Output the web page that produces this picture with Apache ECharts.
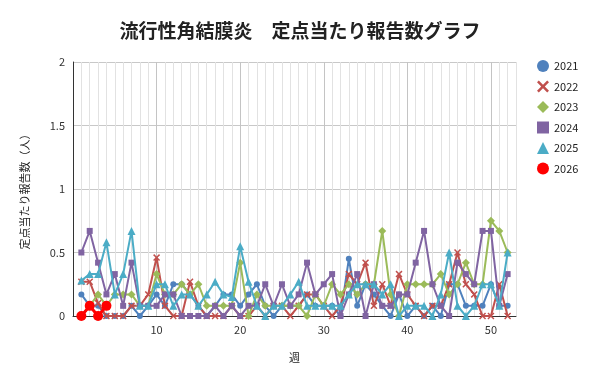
<!DOCTYPE html>
<html><head><meta charset="utf-8">
<script src="https://cdn.jsdelivr.net/npm/echarts@6/dist/echarts.min.js"></script>
<style>html,body{margin:0;padding:0;background:#fff}#c{width:600px;height:384px}</style>
</head><body><div id="c"></div>
<script>
const weeks = Array.from({length:52},(_,i)=>i+1);
const seriesNames = ['2021','2022','2023','2024','2025','2026'];
const y2021 = [0.17,0.08,0.08,0,0,0,0.08,0,0.08,0.17,0.08,0.25,0.25,0.17,0.08,0,0.08,0.17,0.17,0.08,0.17,0.25,0.08,0,0.08,0.08,0.08,0.17,0.08,0.08,0.08,0,0.45,0.08,0.25,0.17,0.08,0,0.17,0,0.08,0,0.08,0,0.25,0.25,0.08,0.08,0.08,0.25,0.08,0.08];
const y2022 = [0.27,0.27,0.1,0,0,0,0.08,0.08,0.17,0.46,0.08,0,0,0.27,0.08,0,0,0,0.08,0,0,0.08,0,0.08,0.08,0,0.08,0.17,0.17,0.08,0,0.08,0.33,0.25,0.42,0.08,0.25,0.08,0.33,0.17,0.08,0,0.08,0.08,0.25,0.5,0.25,0.17,0,0,0.25,0];
const y2023 = [0,0.08,0.17,0.08,0.17,0.17,0.17,0.08,0.08,0.33,0.17,0.17,0.25,0.17,0.25,0.08,0.08,0.08,0.08,0.42,0,0.17,0.08,0.08,0.08,0.08,0.08,0,0.17,0.08,0.25,0.17,0.25,0.17,0.25,0.25,0.67,0.17,0,0.25,0.25,0.25,0.25,0.33,0.17,0.25,0.42,0.25,0.25,0.75,0.67,0.5];
const y2024 = [0.5,0.67,0.42,0.17,0.33,0.08,0.42,0.08,0.08,0.08,0.17,0.17,0,0,0,0,0.08,0,0.08,0,0.08,0.08,0.25,0.08,0.25,0.08,0.17,0.42,0.17,0.25,0.33,0,0.17,0.33,0,0.25,0.08,0.08,0.17,0.17,0.42,0.67,0.25,0.08,0,0.42,0.33,0.25,0.67,0.67,0.08,0.33];
const y2025 = [0.28,0.33,0.33,0.58,0.17,0.33,0.67,0.08,0.08,0.25,0.25,0.08,0.17,0.17,0.08,0.17,0.27,0.17,0.15,0.55,0.27,0.08,0,0.08,0.08,0.17,0.27,0.08,0.08,0.08,0.08,0.08,0.17,0.25,0.25,0.25,0.17,0.25,0,0.08,0.08,0.08,0,0.17,0.5,0.08,0,0.08,0.25,0.25,0.08,0.5];
const y2026 = [0,0.08,0,0.08];
const yTicks = [0,0.5,1,1.5,2];
const xLabels = [10,20,30,40,50];

const colors = ['#4F81BD','#C0504D','#9BBB59','#8064A2','#4BACC6','#FF0000'];
const crossPath = 'path://M0,1.5L1.5,0L5,3.5L8.5,0L10,1.5L6.5,5L10,8.5L8.5,10L5,6.5L1.5,10L0,8.5L3.5,5Z';
const symbols = ['circle', crossPath, 'diamond', 'rect', 'triangle', 'circle'];
const sizes = [6,7,8,6,8,10];
const allData = [y2021,y2022,y2023,y2024,y2025,y2026];

const chart = echarts.init(document.getElementById('c'), null, {renderer:'canvas'});
const minorColors = ['#c4c4c4'].concat(Array(9).fill('#e2e2e2'));
chart.setOption({
  animation:false,
  color: colors,
  textStyle:{fontFamily:'"Noto Sans CJK JP","Noto Sans",sans-serif'},
  title:{text:'流行性角結膜炎　定点当たり報告数グラフ', left:'center', top:16,
    textStyle:{fontSize:19, fontWeight:'bold', color:'#222', fontFamily:'"Noto Sans CJK JP",sans-serif'}},
  legend:{orient:'vertical', left:532, top:55, itemGap:8.5, itemWidth:12, itemHeight:12,
    textStyle:{fontSize:11, color:'#222'},
    data: seriesNames.map((n,i)=>({name:n, icon:symbols[i]}))},
  grid:{left:73, right:84, top:62, bottom:68, containLabel:false},
  xAxis:{type:'value', min:0, max:53, interval:1, name:'週', nameLocation:'middle', nameGap:36,
    nameTextStyle:{fontSize:11,color:'#222'},
    axisLine:{show:true, onZero:false, lineStyle:{color:'#333', width:1}},
    axisTick:{show:false},
    axisLabel:{fontSize:11, color:'#333', margin:8, formatter:v=> xLabels.includes(v)? String(v):''},
    splitLine:{show:true, lineStyle:{color:minorColors, width:1}}},
  yAxis:{type:'value', min:0, max:2, interval:0.5, name:'定点当たり報告数（人）', nameLocation:'middle', nameGap:43,
    nameTextStyle:{fontSize:11,color:'#222'},
    axisLine:{show:true, lineStyle:{color:'#333', width:1}},
    axisTick:{show:false},
    axisLabel:{fontSize:11, color:'#333', margin:8, formatter:v=> yTicks.includes(v)? String(v):''},
    splitLine:{show:true, lineStyle:{color:'#c8c8c8', width:1}}},
  series: allData.map((arr,i)=>({
    name: seriesNames[i], type:'line',
    data: arr.map((v,j)=>[weeks[j], v]),
    symbol: symbols[i], symbolSize: sizes[i], showAllSymbol:true,
    lineStyle:{width: i===5 ? 3 : 2, color:colors[i]}, itemStyle:{color:colors[i]},
    z: 2+i
  }))
});
</script></body></html>
